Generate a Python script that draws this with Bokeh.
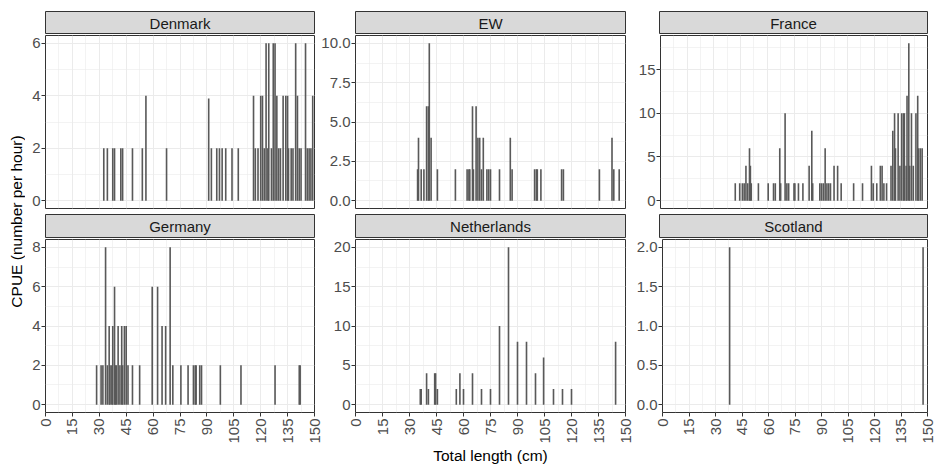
import math
from bokeh.plotting import figure
from bokeh.layouts import row, column
from bokeh.models import Range1d, FixedTicker, Label, PrintfTickFormatter
from bokeh.embed import file_html
from bokeh.resources import INLINE

# ---------------- data (length in cm, CPUE in number per hour) ----------------
denmark_len = [32.5, 34.5, 37.5, 38.5, 42, 43, 48.5, 54, 56, 67.5, 91, 92.5, 95.5, 97, 98.5,
               100.5, 104, 107.5, 116, 117, 118.5, 120, 121, 122, 123, 124, 124.5, 126, 127, 128,
               129, 130, 131, 132.5, 134, 135, 135.5, 137, 138, 139.5, 140.5, 141.5, 142.5, 145,
               146, 147, 148, 149]
denmark_cpue = [2, 2, 2, 2, 2, 2, 2, 2, 4, 2, 3.9, 2, 2, 2, 2,
                2, 2, 2, 4, 2, 2, 4, 4, 2, 6, 2, 6, 2, 6, 6,
                4, 2, 2, 4, 4, 4, 2, 2, 2, 6, 4, 2, 2, 6,
                2, 2, 2, 4]

ew_len = [34.5, 35, 36.5, 38, 39.5, 40.5, 41, 42, 45.5, 55.5, 62, 63, 63.5, 65, 65.5, 67, 68,
          69, 70, 71, 73, 74, 75, 80, 86, 87, 99.5, 100.5, 101, 103, 114.5, 115.5, 135.5,
          142.5, 143.5, 146.5]
ew_cpue = [2, 4, 2, 2, 6, 6, 10, 4, 2, 2, 2, 2, 2, 6, 2, 6, 4,
           4, 2, 4, 2, 2, 2, 2, 4, 2, 2, 2, 2, 2, 2, 2, 2,
           4, 2, 2]

france_len = [42, 44.5, 46, 47, 48, 49, 50, 50.5, 51, 55, 60.5, 63.5, 64.5, 67, 67.5, 70, 71, 72,
              75, 75.5, 77.5, 80, 83.5, 85, 85.5, 89.5, 90.5, 91.5, 92.5, 93.5, 94.5, 95.5, 97.5,
              99.5, 101.5, 108.5, 113.5, 118.5, 119.5, 121.5, 123.5, 124.5, 125.5, 127, 129.5,
              130.5, 131.5, 132, 133.5, 134.5, 135.5, 136.5, 137, 138, 138.5, 139.5, 140, 141,
              142, 143.5, 144.5, 145, 146, 147]
france_cpue = [2, 2, 2, 2, 4, 2, 6, 4, 2, 2, 2, 2, 2, 6, 2, 10, 2, 2,
               2, 2, 2, 2, 4, 8, 2, 2, 2, 2, 6, 2, 2, 2, 4,
               4, 2, 2, 2, 4, 2, 2, 4, 4, 2, 2, 4,
               8, 10, 6, 10, 4, 10, 10, 10, 4, 12, 18, 4, 10,
               4, 10, 12, 6, 6, 6]

germany_len = [28.5, 31, 32, 33.5, 34.5, 35.5, 36, 37, 37.5, 38.5, 39, 39.5, 40.5, 41.5, 42.5, 43,
               44, 45, 46, 48.5, 52.5, 59.5, 62.5, 65, 67, 69.5, 71, 75.5, 79.5, 82.5, 83.5, 84,
               86, 87, 97.5, 109, 128, 141.5, 142]
germany_cpue = [2, 2, 2, 8, 2, 4, 2, 2, 4, 6, 2, 2, 4, 2, 4, 2,
                4, 4, 2, 2, 2, 6, 6, 4, 4, 8, 2, 2, 2, 2, 2, 2,
                2, 2, 2, 2, 2, 2, 2]

netherlands_len = [36, 36.5, 39.5, 40.5, 44, 44.5, 45.5, 56, 58, 60, 65, 70, 75, 80, 85, 90, 95,
                   100, 104.5, 110, 115, 120, 144.5]
netherlands_cpue = [2, 2, 4, 2, 4, 4, 2, 2, 4, 2, 4, 2, 2, 10, 20, 8, 8,
                    4, 6, 2, 2, 2, 8]

scotland_len = [38, 147.5]
scotland_cpue = [2, 2]

x_breaks = [0, 15, 30, 45, 60, 75, 90, 105, 120, 135, 150]
denmark_breaks = [0, 2, 4, 6]
ew_breaks = [0, 2.5, 5, 7.5, 10]
france_breaks = [0, 5, 10, 15]
germany_breaks = [0, 2, 4, 6, 8]
netherlands_breaks = [0, 5, 10, 15, 20]
scotland_breaks = [0, 0.5, 1, 1.5, 2]

x_title = "Total length (cm)"
y_title = "CPUE (number per hour)"

# ---------------- styling / layout ----------------
FONT = "Liberation Sans"
BAR = "#595959"
BORDER = "#333333"
GRID = "#EBEBEB"
STRIP_FILL = "#D9D9D9"

YT_W = 25
TOP_COLS = [(293, 20, 4), (317, 37, 10), (301, 24, 9)]      # width, border left, border right
BOT_COLS = [(298, 20, 9), (310, 32, 8), (303, 26, 9)]
ROW1_STRIP = (34, 11)        # height, top border
ROW1_PANEL = (177, 1, 3)     # height, top, bottom
ROW2_STRIP = (27, 3)
ROW2_PANEL = (231, 1, 57)


def minor_of(breaks, lo, hi):
    step = breaks[1] - breaks[0]
    mids = [(a + b) / 2 for a, b in zip(breaks, breaks[1:])]
    mids = [breaks[0] - step / 2] + mids + [breaks[-1] + step / 2]
    return [m for m in mids if lo <= m <= hi]


def strip(name, colspec, spec):
    w, bl, br = colspec
    h, top = spec
    p = figure(width=w, height=h, x_range=Range1d(0, 1), y_range=Range1d(0, 1),
               x_axis_type=None, y_axis_type=None, output_backend="svg", toolbar_location=None,
               min_border_left=bl, min_border_right=br, min_border_top=top, min_border_bottom=0)
    p.background_fill_color = STRIP_FILL
    p.outline_line_color = BORDER
    p.outline_line_width = 1
    p.xgrid.visible = False
    p.ygrid.visible = False
    p.add_layout(Label(x=0.5, y=0.5, text=name, text_align="center", text_baseline="middle",
                       text_font=FONT, text_font_size="15px", text_color="#1A1A1A"))
    return p


def panel(lens, cpue, breaks, colspec, spec, bottom, fmt=None, xlabel=None):
    w, bl, br = colspec
    h, top, bot = spec
    ymax = max(cpue)
    lo, hi = -0.05 * ymax, 1.05 * ymax
    p = figure(width=w, height=h, x_range=Range1d(0, 150), y_range=Range1d(lo, hi),
               output_backend="svg", toolbar_location=None,
               min_border_left=bl, min_border_right=br, min_border_top=top, min_border_bottom=bot)
    p.outline_line_color = BORDER
    p.outline_line_width = 1
    p.background_fill_color = "white"
    p.vbar(x=lens, top=cpue, bottom=0, width=0.9, fill_color=BAR, line_color=None)

    xt = FixedTicker(ticks=x_breaks, minor_ticks=minor_of(x_breaks, 0, 150))
    yt = FixedTicker(ticks=breaks, minor_ticks=minor_of(breaks, lo, hi))
    p.xaxis.ticker = xt
    p.xgrid.ticker = xt
    p.yaxis.ticker = yt
    p.ygrid.ticker = yt
    for g in (p.xgrid[0], p.ygrid[0]):
        g.grid_line_color = GRID
        g.grid_line_width = 1
        g.minor_grid_line_color = GRID
        g.minor_grid_line_width = 0.6
    for ax in (p.xaxis[0], p.yaxis[0]):
        ax.axis_line_color = None
        ax.major_tick_line_color = BORDER
        ax.major_tick_out = 4
        ax.major_tick_in = 0
        ax.minor_tick_line_color = None
        ax.major_label_text_font = FONT
        ax.major_label_text_font_size = "15px"
        ax.major_label_text_color = "#4D4D4D"
        ax.major_label_standoff = 1
    if fmt:
        p.yaxis.formatter = PrintfTickFormatter(format=fmt)
    if bottom:
        p.xaxis.major_label_orientation = math.pi / 2
        p.xaxis.major_label_standoff = 2
        if xlabel:
            p.xaxis.axis_label = xlabel
            p.xaxis.axis_label_text_font = FONT
            p.xaxis.axis_label_text_font_size = "15.5px"
            p.xaxis.axis_label_text_font_style = "normal"
            p.xaxis.axis_label_text_color = "black"
            p.xaxis.axis_label_standoff = 0
    else:
        p.xaxis.visible = False
    return p


s1 = [strip("Denmark", TOP_COLS[0], ROW1_STRIP), strip("EW", TOP_COLS[1], ROW1_STRIP),
      strip("France", TOP_COLS[2], ROW1_STRIP)]
p1 = [panel(denmark_len, denmark_cpue, denmark_breaks, TOP_COLS[0], ROW1_PANEL, False),
      panel(ew_len, ew_cpue, ew_breaks, TOP_COLS[1], ROW1_PANEL, False, fmt="%.1f"),
      panel(france_len, france_cpue, france_breaks, TOP_COLS[2], ROW1_PANEL, False)]
s2 = [strip("Germany", BOT_COLS[0], ROW2_STRIP), strip("Netherlands", BOT_COLS[1], ROW2_STRIP),
      strip("Scotland", BOT_COLS[2], ROW2_STRIP)]
p2 = [panel(germany_len, germany_cpue, germany_breaks, BOT_COLS[0], ROW2_PANEL, True),
      panel(netherlands_len, netherlands_cpue, netherlands_breaks, BOT_COLS[1], ROW2_PANEL, True,
            xlabel=x_title),
      panel(scotland_len, scotland_cpue, scotland_breaks, BOT_COLS[2], ROW2_PANEL, True, fmt="%.1f")]

total_h = ROW1_STRIP[0] + ROW1_PANEL[0] + ROW2_STRIP[0] + ROW2_PANEL[0]
yt_fig = figure(width=YT_W, height=total_h, x_range=Range1d(0, YT_W), y_range=Range1d(0, total_h),
                x_axis_type=None, y_axis_type=None, output_backend="svg", toolbar_location=None,
                min_border_left=0, min_border_right=0, min_border_top=0, min_border_bottom=0)
yt_fig.outline_line_color = None
yt_fig.xgrid.visible = False
yt_fig.ygrid.visible = False
yt_fig.add_layout(Label(x=16, y=total_h - 221, text=y_title, angle=math.pi / 2,
                        text_align="center", text_baseline="middle",
                        text_font=FONT, text_font_size="15.5px", text_color="black"))

grid = column(row(*s1), row(*p1), row(*s2), row(*p2))
layout = row(yt_fig, grid)

open("out.html", "w").write(file_html(layout, INLINE))
